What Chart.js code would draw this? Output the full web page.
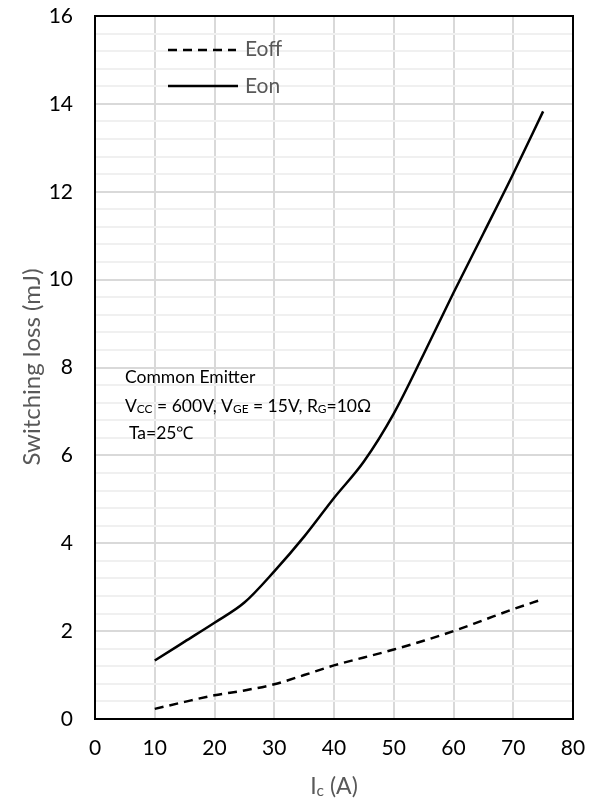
<!DOCTYPE html>
<html>
<head>
<meta charset="utf-8">
<script src="https://cdn.jsdelivr.net/npm/chart.js@4"></script>
<style>
  body { margin: 0; background: #fff; }
  #wrap { width: 594px; height: 808px; }
</style>
</head>
<body>
<div id="wrap"><canvas id="lossChart"></canvas></div>
<script>
// collector current Ic (A)
const current = [10, 15, 20, 25, 30, 35, 40, 45, 50, 55, 60, 65, 70, 75];

// switching losses (mJ)
const eoff = [0.23, 0.39, 0.54, 0.65, 0.79, 1.0, 1.22, 1.4, 1.58, 1.78, 2.0, 2.25, 2.5, 2.73];
const eon = [1.33, 1.76, 2.19, 2.65, 3.36, 4.15, 5.03, 5.86, 6.95, 8.3, 9.7, 11.05, 12.41, 13.83];

const xTicks = [0, 10, 20, 30, 40, 50, 60, 70, 80];
const yTicks = [0, 2, 4, 6, 8, 10, 12, 14, 16];

const FONT = "Lato, 'Open Sans', sans-serif";

function toPoints(ys){
  return current.map((x, i) => ({ x: x, y: ys[i] }));
}

function isMajor(v){
  return yTicks.some(t => Math.abs(t - v) < 1e-6);
}

// draws text made of [string, subscript?] parts, left aligned
function drawParts(ctx, parts, x, y, size){
  let cx = x;
  parts.forEach(p => {
    const s = p[1] ? size * 0.68 : size;
    ctx.font = s + "px " + FONT;
    ctx.fillText(p[0], cx, p[1] ? y + size * 0.18 : y);
    cx += ctx.measureText(p[0]).width;
  });
  return cx - x;
}

const extras = {
  id: "extras",
  afterDatasetsDraw(chart){
    const ctx = chart.ctx;
    const a = chart.chartArea;
    ctx.save();

    // frame
    ctx.strokeStyle = "#000";
    ctx.lineWidth = 2;
    ctx.strokeRect(a.left, a.top, a.right - a.left, a.bottom - a.top);

    // legend
    ctx.lineWidth = 2.5;
    ctx.setLineDash([9, 6]);
    ctx.beginPath();
    ctx.moveTo(168, 50);
    ctx.lineTo(236, 50);
    ctx.stroke();
    ctx.setLineDash([]);
    ctx.beginPath();
    ctx.moveTo(168, 86);
    ctx.lineTo(238, 86);
    ctx.stroke();

    ctx.fillStyle = "#595959";
    ctx.textBaseline = "middle";
    ctx.textAlign = "left";
    ctx.font = "21px " + FONT;
    ctx.fillText("Eoff", 245, 49);
    ctx.fillText("Eon", 245, 86);

    // conditions
    ctx.fillStyle = "#000";
    ctx.font = "17.5px " + FONT;
    ctx.fillText("Common Emitter", 125, 377);
    drawParts(ctx, [["V", 0], ["CC", 1], [" = 600V, V", 0], ["GE", 1], [" = 15V, R", 0], ["G", 1], ["=10Ω", 0]], 125, 406, 17.5);
    ctx.font = "17.5px " + FONT;
    ctx.fillText("Ta=25℃", 129, 433);

    // axis titles
    ctx.fillStyle = "#595959";
    ctx.textAlign = "left";
    const parts = [["I", 0], ["c", 1], [" (A)", 0]];
    ctx.globalAlpha = 0;
    const w = drawParts(ctx, parts, 0, 0, 23);
    ctx.globalAlpha = 1;
    drawParts(ctx, parts, 334 - w / 2, 787, 23);

    ctx.translate(32, 367);
    ctx.rotate(-Math.PI / 2);
    ctx.textAlign = "center";
    ctx.font = "24px " + FONT;
    ctx.fillText("Switching loss (mJ)", 0, 0);

    ctx.restore();
  }
};

new Chart(document.getElementById("lossChart"), {
  type: "line",
  data: {
    datasets: [
      {
        label: "Eoff",
        data: toPoints(eoff),
        borderColor: "#000",
        borderWidth: 2.5,
        borderDash: [9, 6],
        pointRadius: 0,
        cubicInterpolationMode: "monotone",
        fill: false
      },
      {
        label: "Eon",
        data: toPoints(eon),
        borderColor: "#000",
        borderWidth: 2.5,
        pointRadius: 0,
        cubicInterpolationMode: "monotone",
        fill: false
      }
    ]
  },
  options: {
    responsive: true,
    maintainAspectRatio: false,
    animation: false,
    layout: { padding: { top: 16, right: 21, left: 0, bottom: 0 } },
    plugins: {
      legend: { display: false },
      tooltip: { enabled: false }
    },
    scales: {
      x: {
        type: "linear",
        min: xTicks[0],
        max: xTicks[xTicks.length - 1],
        afterBuildTicks: s => { s.ticks = xTicks.map(v => ({ value: v })); },
        afterFit: s => {
          s.height = 89;
          s.paddingLeft = 0;
          s.paddingRight = 0;
        },
        border: { display: false },
        grid: { color: "#d9d9d9", lineWidth: 2, drawTicks: false },
        ticks: {
          padding: 17,
          color: "#000",
          font: { family: FONT, size: 21 }
        }
      },
      y: {
        min: yTicks[0],
        max: yTicks[yTicks.length - 1],
        afterFit: s => {
          s.width = 95;
          s.paddingTop = 0;
          s.paddingBottom = 0;
        },
        border: { display: false },
        grid: {
          drawTicks: false,
          lineWidth: 2,
          color: c => isMajor(c.tick.value) ? "#d9d9d9" : "#f0f0f0"
        },
        ticks: {
          stepSize: 0.4,
          autoSkip: false,
          padding: 22,
          color: "#000",
          font: { family: FONT, size: 21 },
          callback: v => isMajor(v) ? String(Math.round(v)) : ""
        }
      }
    }
  },
  plugins: [extras]
});
</script>
</body>
</html>
